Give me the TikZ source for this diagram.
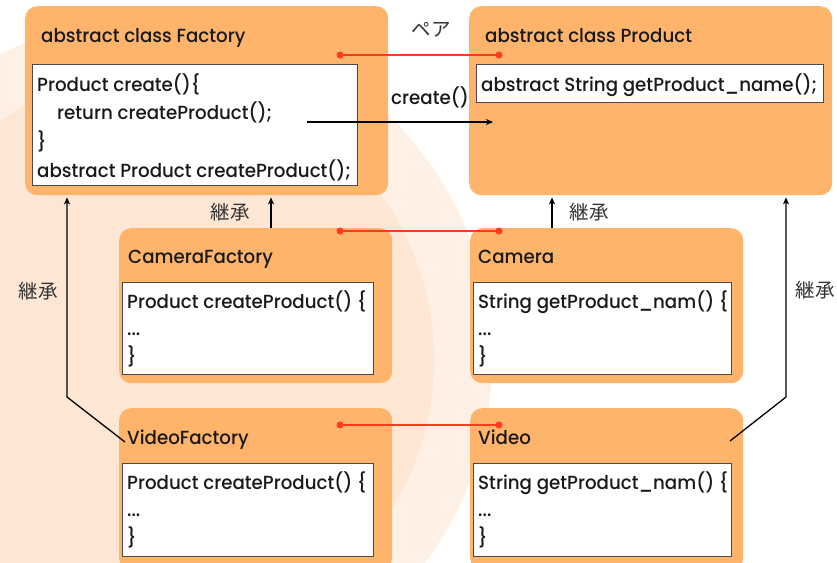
\documentclass[tikz,border=0pt]{standalone}
\usepackage{fontspec}
\setmainfont{Poppins Medium}[FakeStretch=0.96]
\newfontfamily\jpfont{Noto Sans CJK JP}
\usetikzlibrary{arrows.meta,calc}

\definecolor{boxorange}{HTML}{FFB46C}
\definecolor{pairred}{HTML}{FF3A1E}
\definecolor{bgouter}{HTML}{FEF0E5}
\definecolor{bginner}{HTML}{FDE6D4}
\definecolor{codeframe}{HTML}{4A4A4A}
\definecolor{labelgray}{HTML}{333333}

\tikzset{
  classbox/.style={rectangle, rounded corners=12pt, fill=boxorange, draw=none,
    anchor=north west, inner sep=0pt},
  codebox/.style={rectangle, fill=white, draw=codeframe, line width=1pt,
    anchor=north west, inner sep=0pt},
  codetext/.style={anchor=base west, inner sep=0pt, text=black!90,
    font=\fontsize{19}{23}\selectfont},
  jplabel/.style={inner sep=0pt, text=labelgray,
    font=\jpfont\fontsize{19.5}{21}\selectfont},
  pairline/.style={draw=pairred, line width=1.6pt},
  pairdot/.style={circle, fill=pairred, minimum size=7pt, inner sep=0pt},
  inherit/.style={draw=black, line width=1.3pt,
    -{Stealth[length=7pt,width=6pt,inset=2pt]}},
}

\begin{document}
\begin{tikzpicture}[x=1pt,y=-1pt]
  \useasboundingbox (0,0) rectangle (837,562);
  \clip (0,0) rectangle (837,562);
  \fill[white] (0,0) rectangle (837,562);

  % soft background disc
  \fill[bgouter] (151,360) circle[radius=341];
  \fill[bginner] (151,360) circle[radius=283];

  % class boxes
  \node[classbox, minimum width=363pt, minimum height=189pt] (factory) at (25,6) {};
  \node[classbox, minimum width=363pt, minimum height=189pt] (product) at (469,6) {};
  \node[classbox, minimum width=273pt, minimum height=155pt] (camfac) at (119,228) {};
  \node[classbox, minimum width=273pt, minimum height=155pt] (camera) at (470,228) {};
  \node[classbox, minimum width=273pt, minimum height=162pt] (vidfac) at (119,408) {};
  \node[classbox, minimum width=273pt, minimum height=162pt] (video) at (470,408) {};

  % method bodies
  \node[codebox, minimum width=325pt, minimum height=121pt] (factorycode) at (32,64) {};
  \node[codebox, minimum width=347pt, minimum height=38pt] (productcode) at (476,64) {};
  \node[codebox, minimum width=251pt, minimum height=92pt] (camfaccode) at (122,282) {};
  \node[codebox, minimum width=258pt, minimum height=92pt] (cameracode) at (473,282) {};
  \node[codebox, minimum width=251pt, minimum height=93pt] (vidfaccode) at (122,463) {};
  \node[codebox, minimum width=258pt, minimum height=93pt] (videocode) at (473,463) {};

  % class names
  \node[codetext] (factorytitle) at (41,42) {abstract class Factory};
  \node[codetext] (producttitle) at (485,42) {abstract class Product};
  \node[codetext] (camfactitle) at (128,263) {CameraFactory};
  \node[codetext] (cameratitle) at (478,263) {Camera};
  \node[codetext] (vidfactitle) at (127,444) {VideoFactory};
  \node[codetext] (videotitle) at (478,444) {Video};

  % code lines
  \node[codetext] (fl1) at (37,91) {Product create()\{};
  \node[codetext] (fl2) at (57,119) {return createProduct();};
  \node[codetext] (fl3) at (37,148) {\}};
  \node[codetext] (fl4) at (37,177) {abstract Product createProduct();};
  \node[codetext] (pl1) at (481,91) {abstract String getProduct\_name();};

  \node[codetext] (cfl1) at (127,308) {Product createProduct() \{};
  \node[codetext] (cfl2) at (127,335) {...};
  \node[codetext] (cfl3) at (127,363) {\}};
  \node[codetext] (cal1) at (478,308) {String getProduct\_nam() \{};
  \node[codetext] (cal2) at (478,335) {...};
  \node[codetext] (cal3) at (478,363) {\}};

  \node[codetext] (vfl1) at (127,489) {Product createProduct() \{};
  \node[codetext] (vfl2) at (127,516) {...};
  \node[codetext] (vfl3) at (127,544) {\}};
  \node[codetext] (vdl1) at (478,489) {String getProduct\_nam() \{};
  \node[codetext] (vdl2) at (478,516) {...};
  \node[codetext] (vdl3) at (478,544) {\}};

  % pair links between factories and products
  \node[pairdot] (pf) at (340,55) {};
  \node[pairdot] (pp) at (499,55) {};
  \node[pairdot] (pcf) at (340,231) {};
  \node[pairdot] (pca) at (499,231) {};
  \node[pairdot] (pvf) at (340,425) {};
  \node[pairdot] (pvd) at (499,425) {};
  \draw[pairline] (pf.center) -- (pp.center);
  \draw[pairline] (pcf.center) -- (pca.center);
  \draw[pairline] (pvf.center) -- (pvd.center);
  \node[jplabel] (pairlabel) at (431,30) {ペア};

  % create() call
  \coordinate (callfrom) at (307,122);
  \coordinate (callto) at (493,122);
  \draw[inherit] (callfrom) -- (callto);
  \node[codetext] (calllabel) at (391,104) {create()};

  % inheritance
  \coordinate (xcf) at (271,0);
  \coordinate (xca) at (552,0);
  \coordinate (xl) at (67,0);
  \coordinate (xr) at (786,0);
  \draw[inherit, shorten >=2pt] (camfac.north -| xcf) -- (factory.south -| xcf);
  \draw[inherit, shorten >=2pt] (camera.north -| xca) -- (product.south -| xca);

  \coordinate (vfstart) at (125,442);
  \coordinate (vfbend) at (67,397);
  \draw[inherit, shorten >=2pt] (vfstart) -- (vfbend) -- (factory.south -| xl);
  \coordinate (vdstart) at (730,441);
  \coordinate (vdbend) at (786,397);
  \draw[inherit, shorten >=2pt] (vdstart) -- (vdbend) -- (product.south -| xr);

  \node[jplabel] (inh1) at (230,212) {継承};
  \node[jplabel] (inh2) at (589,212) {継承};
  \node[jplabel] (inh3) at (38,291) {継承};
  \node[jplabel] (inh4) at (815,290) {継承};
\end{tikzpicture}
\end{document}
